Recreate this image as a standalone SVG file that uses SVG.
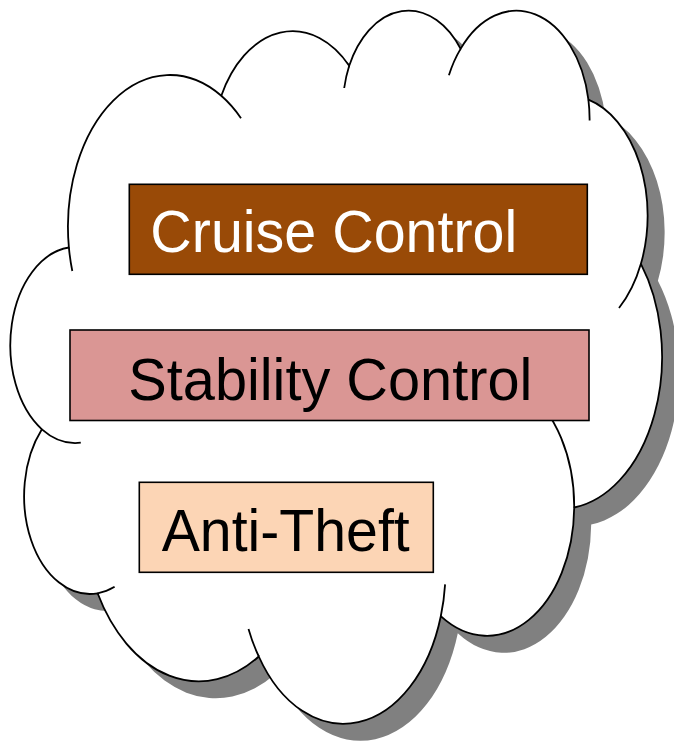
<svg xmlns="http://www.w3.org/2000/svg" width="674" height="744" viewBox="0 0 674 744">
  <style>
    .outline { fill: none; stroke: #000; stroke-width: 1.8; stroke-linecap: butt; }
    .box { stroke: #000; stroke-width: 1.6; }
    .label { font-family: "Liberation Sans", Arial, sans-serif; font-size: 60px; }
  </style>
  <defs>
    <!-- Cloud body: eleven elliptical lobes joined clockwise from the upper-left -->
    <path id="cloud-body" d="M 68.9 247.5
      A 101.9 151.9 0 0 1 221.3 95.8
      A 80.5 120.1 0 0 1 349.2 65.8
      A 65.9 98.3 0 0 1 460.6 48.9
      A 73.3 109 0 0 1 588.4 99.7
      A 80.5 120.2 0 0 1 640.9 263.8
      A 102.3 152.4 0 0 1 574.2 507.5
      A 87.3 130 0 0 1 440.8 616.2
      A 101.9 152.3 0 0 1 258.8 656.5
      A 116.5 174.3 0 0 1 97.6 593.3
      A 65.8 97.8 0 0 1 41.9 429.3
      A 65.6 98.3 0 0 1 68.9 247.5 Z"/>
  </defs>

  <g id="cloud">
    <!-- drop shadow -->
    <use href="#cloud-body" fill="#808080" transform="translate(17 17)"/>
    <!-- body -->
    <use href="#cloud-body" fill="#ffffff" stroke="#000" stroke-width="1.8"/>
    <!-- inner lobe tails -->
    <path class="outline" d="
      M 72.3 271 A 101.9 151.9 0 0 1 68.9 247.5
      M 221.3 95.8 A 101.9 151.9 0 0 1 241.0 118.2
      M 344.2 88 A 65.9 98.3 0 0 1 349.2 65.8
      M 448.9 75.3 A 73.3 109 0 0 1 460.6 48.9
      M 588.4 99.7 A 73.3 109 0 0 1 589.6 120.6
      M 640.9 263.8 A 80.5 120.2 0 0 1 619.0 308.0
      M 525.1 389.4 A 87.3 130 0 0 1 574.2 507.5
      M 445.1 584.4 A 101.9 152.3 0 0 1 440.8 616.2
      M 258.8 656.5 A 101.9 152.3 0 0 1 248.5 629
      M 114.6 586.8 A 65.8 97.8 0 0 1 97.6 593.3
      M 80.8 442.7 A 65.6 98.3 0 0 1 41.9 429.3"/>
  </g>

  <g id="cruise-control">
    <rect class="box" x="129.3" y="184.3" width="458" height="90" fill="#994A07"/>
    <text class="label" x="150.3" y="252.3" fill="#ffffff" textLength="367" lengthAdjust="spacingAndGlyphs">Cruise Control</text>
  </g>

  <g id="stability-control">
    <rect class="box" x="70" y="330" width="519" height="90.5" fill="#DA9694"/>
    <text class="label" x="128.3" y="399.5" fill="#000000" textLength="404" lengthAdjust="spacingAndGlyphs">Stability Control</text>
  </g>

  <g id="anti-theft">
    <rect class="box" x="139.3" y="482.3" width="294" height="90" fill="#FCD5B5"/>
    <text class="label" x="161.7" y="550.7" fill="#000000" textLength="248" lengthAdjust="spacingAndGlyphs">Anti-Theft</text>
  </g>
</svg>
